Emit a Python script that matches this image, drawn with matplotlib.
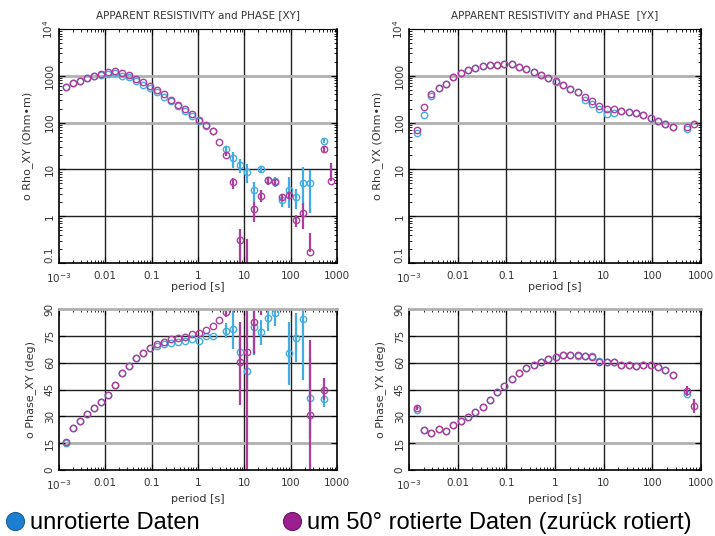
import numpy as np
import matplotlib.pyplot as plt
from matplotlib.lines import Line2D
from matplotlib.ticker import FixedLocator, FixedFormatter, LogLocator, NullFormatter

nan = np.nan

# periods [s]
period = [0.00145, 0.00204, 0.00289, 0.00408, 0.00577, 0.00815, 0.0115, 0.0163,
          0.0230, 0.0325, 0.0459, 0.0649, 0.0917, 0.130, 0.183, 0.259, 0.366,
          0.517, 0.730, 1.03, 1.46, 2.06, 2.91, 4.11, 5.81, 8.21, 11.6, 16.4,
          23.2, 32.7, 46.3, 65.4, 92.4, 131, 185, 261, 520, 735]

# apparent resistivity XY (blue = unrotated, purple = rotated back)
rho_xy_b = [572, 685, 782, 877, 975, 1060, 1100, 1120, 1000, 940, 756, 650, 550,
            450, 360, 288, 228, 180, 140, 110, 86, 66, nan, 27.3, 17.8, 12.4,
            8.9, 3.7, 10, 5.8, 5.6, 2.2, 3.7, 2.6, 5.2, 5.2, 41, nan]
rho_xy_p = [580, 685, 782, 877, 984, 1086, 1180, 1280, 1120, 1050, 847, 720, 600,
            490, 400, 310, 243, 193, 149, 116, 88, 66, 39, 20.6, 5.4, 0.31,
            0.05, 1.4, 2.7, 5.8, 5.4, 2.55, 2.8, 0.85, 1.2, 0.17, 27, 5.6]
rho_xy_b_lo = [nan] * 23 + [24, 10.5, 8.5, 5.2, 2.0, 8.2, 4.7, 4.3, 1.6, 1.5, 1.4, 1.7, 1.15, 36, nan]
rho_xy_b_hi = [nan] * 23 + [31, 24, 16.4, 13, 5.4, 11.8, 6.9, 6.9, 2.6, 6.9, 3.9, 11.5, 9.6, 48, nan]
rho_xy_p_lo = [nan] * 23 + [19, 3.9, 0.05, 0.03, 0.75, 2.0, 4.7, 4.5, 2.2, 2.3, 0.59, 0.54, 0.17, 22, 5.6]
rho_xy_p_hi = [nan] * 23 + [22, 6.4, 0.54, 0.32, 2.0, 3.6, 6.9, 6.1, 2.9, 3.3, 1.05, 1.9, 0.43, 32, 13.5]

# apparent resistivity YX
rho_yx_b = [61, 148, 373, 562, 652, 936, 1122, 1300, 1436, 1585, 1720, 1690, 1808,
            1750, 1560, 1390, 1218, 1033, 877, 720, 631, 518, 440, 311, 247, 193,
            151, 164, 181, 169, 159, 144, 126, 110, 95, 81, 72, nan]
rho_yx_p = [70, 213, 417, 562, 652, 936, 1122, 1300, 1436, 1585, 1720, 1690, 1808,
            1750, 1560, 1390, 1218, 1033, 877, 768, 631, 518, 457, 361, 286, 228,
            193, 193, 181, 169, 159, 144, 126, 110, 95, 81, 79, 95]

# phase XY [deg]
phi_xy_b = [15.3, 23.5, 27.4, 31.2, 34.5, 38.3, 42.2, 47.6, 54.3, 58.4, 62.6, 65.7,
            68.5, 69.3, 70.4, 71.3, 71.7, 72.3, 73.4, 72.3, 74.9, 75.1, nan,
            78.0, 79.2, 65.9, 55.5, 80, 77.3, 85, 87.8, nan, 65.7, 74.1, 84.4, 40.1, 39.6, nan]
phi_xy_p = [15.5, 23.5, 27.4, 31.2, 34.5, 38.3, 42.2, 47.6, 54.3, 58.4, 62.6, 65.7,
            68.5, 70.4, 71.7, 73.2, 73.9, 74.3, 76.0, 76.6, 78.6, 80.8, 84.2,
            88.3, nan, 60.5, 66.1, 83.1, 93, nan, nan, nan, nan, nan, nan, 30.8, 44.8, nan]
phi_xy_b_lo = [nan] * 23 + [73.8, 67.6, 57.9, 43.9, 64.4, 70, 78, 80.7, nan, 47.6, 60.7, 50.4, 17.7, 35.1, nan]
phi_xy_b_hi = [nan] * 23 + [82.2, 89.1, 73.8, 66.3, 91.5, 84, 90.6, 91.5, nan, 83.1, 87.8, 90.6, 63.5, 42.9, nan]
phi_xy_p_lo = [nan] * 23 + [85.5, nan, 36.4, 0, 65, 87, nan, nan, nan, nan, nan, nan, 0, 39.2, nan]
phi_xy_p_hi = [nan] * 23 + [92, nan, 83.1, 95, 90, 99, nan, nan, nan, nan, nan, nan, 72.8, 51.3, nan]

# phase YX [deg]
phi_yx_b = [33.6, 22.2, 20.9, 22.8, 22.0, 25.4, 27.4, 29.5, 32.5, 35.5, 39.2, 43.7,
            47.2, 51.2, 54.1, 57.0, 59.0, 60.5, 62.0, 63.1, 64.2, 64.2, 64.0, 63.7,
            63.9, 61.2, 60.5, 60.5, 58.8, 58.6, 58.4, 58.6, 59.0, 57.5, 55.8, 53.0, 42.8, nan]
phi_yx_p = [34.6, 22.2, 20.9, 22.8, 22.0, 25.4, 27.4, 29.5, 32.5, 35.5, 39.2, 43.7,
            47.2, 51.2, 54.1, 57.0, 59.0, 60.5, 62.0, 63.1, 64.2, 64.2, 64.2, 63.7,
            63.3, 60.7, 60.5, 60.3, 58.8, 58.6, 58.4, 58.6, 59.0, 57.5, 55.8, 53.0, 44.3, 36.0]
phi_yx_p_lo = [33.5] + [nan] * 35 + [41.5, 32.1]
phi_yx_p_hi = [36.0] + [nan] * 35 + [47.0, 39.6]

xticks = [1e-3, 1e-2, 1e-1, 1, 10, 100, 1000]
xlabels = ['10$^{-3}$', '0.01', '0.1', '1', '10', '100', '1000']
rho_ticks = [0.1, 1, 10, 100, 1000, 1e4]
rho_labels = ['0.1', '1', '10', '100', '1000', '10$^4$']
phi_ticks = [0, 15, 30, 45, 60, 75, 90]

BLUE = '#43ade3'
PURPLE = '#ae3d9c'
GRAY = '#b0b0b0'
TXT = '#333333'

fig = plt.figure(figsize=(7.15, 5.36), dpi=100)


def series(ax, y, color, lo=None, hi=None):
    t = np.array(period)
    if lo is not None:
        lo = np.array(lo, float)
        hi = np.array(hi, float)
        m = ~np.isnan(lo)
        ax.vlines(t[m], lo[m], hi[m], color=color, lw=1.6)
    ax.plot(t, y, 'o', ls='none', mfc='none', mec=color, ms=4.6, mew=1.0)


def frame(ax, kind, name):
    ax.set_xscale('log')
    ax.set_xlim(1e-3, 1e3)
    ax.xaxis.set_major_locator(FixedLocator(xticks))
    ax.xaxis.set_major_formatter(FixedFormatter(xlabels))
    ax.xaxis.set_minor_locator(LogLocator(base=10, subs=np.arange(2, 10)))
    ax.xaxis.set_minor_formatter(NullFormatter())
    for v in xticks[1:-1]:
        ax.axvline(v, color='#222222', lw=1.0, zorder=0)
    if kind == 'rho':
        ax.set_yscale('log')
        ax.set_ylim(0.1, 1e4)
        ax.yaxis.set_major_locator(FixedLocator(rho_ticks))
        ax.yaxis.set_major_formatter(FixedFormatter(rho_labels))
        ax.yaxis.set_minor_locator(LogLocator(base=10, subs=np.arange(2, 10)))
        ax.yaxis.set_minor_formatter(NullFormatter())
        for v in [1, 10]:
            ax.axhline(v, color='#222222', lw=1.0, zorder=0)
        for v in [100, 1000]:
            ax.axhline(v, color=GRAY, lw=2.0, zorder=0)
        ax.set_ylabel('o Rho_%s (Ohm•m)' % name, fontsize=8, color=TXT, labelpad=6)
        ax.set_title('APPARENT RESISTIVITY and PHASE ' + ('[XY]' if name == 'XY' else ' [YX]'),
                     fontsize=7.5, color=TXT, pad=8)
        xpad = -2
    else:
        ax.set_ylim(0, 90)
        ax.yaxis.set_major_locator(FixedLocator(phi_ticks))
        for v in [30, 45, 60, 75]:
            ax.axhline(v, color='#222222', lw=1.0, zorder=0)
        ax.axhline(15, color=GRAY, lw=2.0, zorder=0)
        ax.spines['top'].set_color(GRAY)
        ax.spines['top'].set_linewidth(2.0)
        ax.set_ylabel('o Phase_%s (deg)' % name, fontsize=8, color=TXT, labelpad=6)
        xpad = 1
    for s in ['left', 'bottom', 'right']:
        ax.spines[s].set_linewidth(1.2)
    ax.tick_params(which='both', direction='in', top=True, right=True,
                   labelsize=7.5, labelcolor=TXT)
    ax.tick_params(axis='x', pad=6)
    ax.tick_params(axis='y', pad=3)
    ax.tick_params(which='major', length=4)
    ax.tick_params(which='minor', length=2.5)
    for lab in ax.get_yticklabels():
        lab.set_rotation(90)
        lab.set_va('bottom' if lab.get_text() == '0.1' else 'center')
    ax.set_xlabel('period [s]', fontsize=8, color=TXT, labelpad=xpad)


ax1 = fig.add_axes([0.0825, 0.5093, 0.3888, 0.4366])
ax2 = fig.add_axes([0.572, 0.5093, 0.4084, 0.4366])
ax3 = fig.add_axes([0.0825, 0.1231, 0.3888, 0.2998])
ax4 = fig.add_axes([0.572, 0.1231, 0.4084, 0.2998])

frame(ax1, 'rho', 'XY')
series(ax1, rho_xy_b, BLUE, rho_xy_b_lo, rho_xy_b_hi)
series(ax1, rho_xy_p, PURPLE, rho_xy_p_lo, rho_xy_p_hi)

frame(ax2, 'rho', 'YX')
series(ax2, rho_yx_b, BLUE)
series(ax2, rho_yx_p, PURPLE)

frame(ax3, 'phi', 'XY')
series(ax3, phi_xy_b, BLUE, phi_xy_b_lo, phi_xy_b_hi)
series(ax3, phi_xy_p, PURPLE, phi_xy_p_lo, phi_xy_p_hi)

frame(ax4, 'phi', 'YX')
series(ax4, phi_yx_b, BLUE)
series(ax4, phi_yx_p, PURPLE, phi_yx_p_lo, phi_yx_p_hi)

handles = [Line2D([], [], marker='o', ls='none', ms=13, mfc='#1c7fd2', mec='#1a5f9a', mew=0.8),
           Line2D([], [], marker='o', ls='none', ms=13, mfc='#9b1f8e', mec='#6a1462', mew=0.8)]
fig.legend(handles, ['unrotierte Daten', 'um 50° rotierte Daten (zurück rotiert)'],
           loc='lower left', bbox_to_anchor=(-0.022, -0.036), ncol=2, frameon=False,
           prop={'family': 'Liberation Sans', 'size': 17}, handlelength=0.8,
           handletextpad=0.25, columnspacing=3.5)

fig.savefig('out.png', dpi=100)
